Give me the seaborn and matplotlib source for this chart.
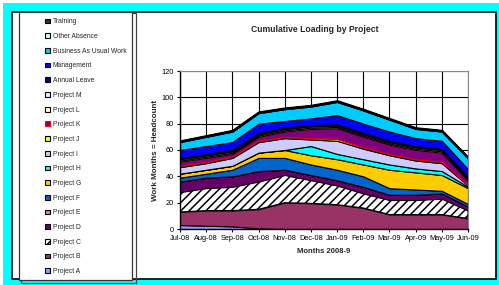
import numpy as np
import seaborn as sns
import matplotlib.pyplot as plt
from matplotlib.patches import Rectangle, Patch

# months on the x axis
months = ['Jul-08', 'Aug-08', 'Sep-08', 'Oct-08', 'Nov-08', 'Dec-08',
          'Jan-09', 'Feb-09', 'Mar-09', 'Apr-09', 'May-09', 'Jun-09']

# work months per category (stack order: bottom -> top)
project_a = [3, 2.5, 2, 0.5, 0, 0, 0, 0, 0, 0, 0, 0]
project_b = [10, 11.5, 12, 14.5, 20, 19.5, 18.5, 16, 11, 11, 11, 8]
project_c = [15, 17, 18, 21, 21, 17.5, 14.5, 11, 11, 11, 12, 6]
project_d = [8, 8, 8, 8, 4, 4, 4, 5, 4, 4, 4, 3]
project_e = [0, 0, 0, 0, 0, 0, 0, 0, 0, 0, 0, 0]
project_f = [3, 3, 5, 10, 9, 8, 8, 8, 5, 4, 2, 2]
project_g = [3, 3, 3, 4, 6, 7, 8, 9, 14, 13, 12, 12]
project_h = [0, 0, 0, 0, 0, 7, 4, 4, 4, 3, 3, 1]
project_i = [5, 5, 6, 8, 9, 5, 10, 8, 7, 6, 6, 1]
project_j = [1, 1, 1, 1, 1, 1, 1.5, 1, 1, 1, 1, 0.5]
project_k = [3, 3, 2, 3, 4, 7, 8, 8, 7, 7, 7, 3]
project_l = [1, 1, 1, 1, 1, 1, 1, 1, 1, 1, 1, 1]
project_m = [1, 1, 1, 1, 1, 1, 1, 1, 1, 1, 1, 1]
annual_leave = [1, 1, 1, 1, 1, 1, 1, 1, 1, 1, 1, 1]
management = [6, 6, 6, 7, 5, 5, 7, 7, 7, 6, 6, 6]
bau_work = [6, 7, 8, 8, 9, 9, 10, 10, 9, 7, 7, 8]
other_absence = [0.5, 0.5, 0.5, 0.5, 0.5, 0.5, 0.5, 0.5, 0.5, 0.5, 0.5, 0.5]
training = [0.5, 0.5, 0.5, 0.5, 0.5, 0.5, 0.5, 0.5, 0.5, 0.5, 0.5, 0.5]

labels = ['Project A', 'Project B', 'Project C', 'Project D', 'Project E',
          'Project F', 'Project G', 'Project H', 'Project I', 'Project J',
          'Project K', 'Project L', 'Project M', 'Annual Leave', 'Management',
          'Business As Usual Work', 'Other Absence', 'Training']
series = [project_a, project_b, project_c, project_d, project_e, project_f,
          project_g, project_h, project_i, project_j, project_k, project_l,
          project_m, annual_leave, management, bau_work, other_absence, training]
colors = ['#9999FF', '#993366', '#FFFFFF', '#660066', '#FF8080', '#0066CC',
          '#FFCC00', '#00FFFF', '#CCCCFF', '#FFFF00', '#800080', '#FFFFCC',
          '#CCFFFF', '#000080', '#0000FF', '#00CCFF', '#CCFFFF', '#333333']
edges = ['black'] * 18
edges[10] = '#FF0000'

sns.set_theme(style='white')
plt.rcParams['font.family'] = ['Liberation Sans', 'DejaVu Sans']
plt.rcParams['hatch.linewidth'] = 1.1
plt.rcParams['hatch.color'] = '#555555'

fig = plt.figure(figsize=(4.99, 2.85), dpi=100)
fig.patch.set_facecolor('#00FFFF')

# white strips at the very top / left
fig.add_artist(Rectangle((0, 1 - 3 / 285), 1, 3 / 285, transform=fig.transFigure,
                         facecolor='white', edgecolor='none', zorder=-5))
fig.add_artist(Rectangle((0, 0), 3 / 499, 1, transform=fig.transFigure,
                         facecolor='white', edgecolor='none', zorder=-5))
# chart frame
fig.add_artist(Rectangle((12 / 499, 1 - 279 / 285), 484 / 499, 267 / 285,
                         transform=fig.transFigure, facecolor='white',
                         edgecolor='black', lw=1.2, zorder=-4))
# legend box (double border)
fig.add_artist(Rectangle((21 / 499, 1 - 283 / 285), 115 / 499, 270 / 285,
                         transform=fig.transFigure, facecolor='none',
                         edgecolor='#444444', lw=0.9, zorder=-3))
fig.add_artist(Rectangle((19 / 499, 1 - 280 / 285), 113 / 499, 268 / 285,
                         transform=fig.transFigure, facecolor='white',
                         edgecolor='#333333', lw=0.9, zorder=-2))

ax = fig.add_axes([180 / 499, 1 - 229 / 285, 288 / 499, 158 / 285])
x = np.arange(len(months))
polys = ax.stackplot(x, *series, colors=colors, edgecolor='black', linewidth=0.8)
for p, ec in zip(polys, edges):
    p.set_edgecolor(ec)
polys[2].set_hatch('////')
polys[-1].set_linewidth(1.4)

ax.set_xlim(0, 11)
ax.set_ylim(0, 120)
ax.set_xticks(x)
ax.set_xticklabels(months)
ax.set_yticks(range(0, 121, 20))
ax.grid(True, color='black', lw=0.8)
ax.set_axisbelow(True)
ax.tick_params(labelsize=5.3, length=2.5, width=0.8, pad=2, colors='black',
               direction='out', bottom=True, left=True)
for s in ['left', 'bottom']:
    ax.spines[s].set_color('black')
    ax.spines[s].set_linewidth(1.0)
for s in ['top', 'right']:
    ax.spines[s].set_color('#888888')
    ax.spines[s].set_linewidth(0.8)

ax.set_xlabel('Months 2008-9', fontsize=5.5, fontweight='bold', labelpad=4)
ax.set_ylabel('Work Months = Headcount', fontsize=5.8, fontweight='bold', labelpad=2)
fig.text(315 / 499, 1 - 29 / 285, 'Cumulative Loading by Project', fontsize=6.2,
         fontweight='bold', ha='center', va='center')

handles = [Patch(facecolor=c, edgecolor=e, lw=0.8, hatch=('////' if l == 'Project C' else None))
           for c, e, l in zip(colors, edges, labels)]
leg = fig.legend(handles[::-1], labels[::-1], loc='upper left',
                 bbox_to_anchor=(42 / 499, 1 - 15 / 285), frameon=False,
                 fontsize=4.9, labelspacing=1.13, handlelength=0.7,
                 handleheight=0.7, handletextpad=0.4, borderpad=0)

fig.savefig('out.png', dpi=100, facecolor=fig.get_facecolor())
